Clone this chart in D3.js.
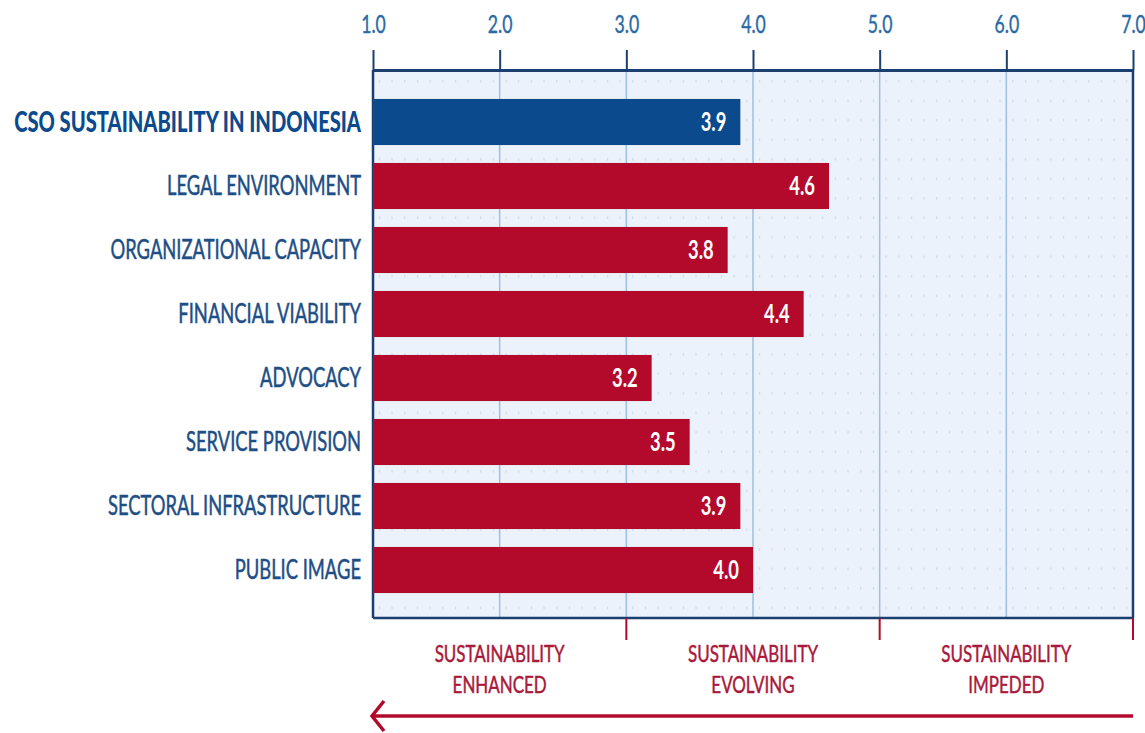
<!DOCTYPE html>
<html>
<head>
<meta charset="utf-8">
<script src="https://cdn.jsdelivr.net/npm/d3@7"></script>
<style>
  body { margin: 0; background: #fff; }
  svg text { font-family: Lato, "Open Sans", sans-serif; }
</style>
</head>
<body>
<div id="graph"></div>
<script>
// chart data
var categories = ["CSO SUSTAINABILITY IN INDONESIA", "LEGAL ENVIRONMENT", "ORGANIZATIONAL CAPACITY",
                  "FINANCIAL VIABILITY", "ADVOCACY", "SERVICE PROVISION",
                  "SECTORAL INFRASTRUCTURE", "PUBLIC IMAGE"];
var scores = [3.9, 4.6, 3.8, 4.4, 3.2, 3.5, 3.9, 4.0];
var tick_values = [1, 2, 3, 4, 5, 6, 7];
var zone_labels = [["SUSTAINABILITY", "ENHANCED"], ["SUSTAINABILITY", "EVOLVING"], ["SUSTAINABILITY", "IMPEDED"]];
var zone_bounds = [1, 3, 5, 7];

function draw_function() {
    var width = 1145, height = 733;
    var vis = d3.select("#graph").append("svg")
        .attr("width", width).attr("height", height);

    var navy = "#1b3f6e";
    var blue = "#0c4a8e";
    var red = "#b30a2c";
    var label_color = "#1d4e85";

    // the reference type is a tall narrow face: squeeze Lato horizontally.
    // calibrate so "LEGAL ENVIRONMENT" comes out about 194px wide
    var probe = vis.append("text").attr("font-size", 26).text("LEGAL ENVIRONMENT");
    var sx = 194 / probe.node().getComputedTextLength();
    probe.remove();

    var x = d3.scaleLinear().domain([1, 7]).range([373, 1133]);
    var y = d3.scaleBand().domain(categories).range([90, 602]).paddingInner(0.28).paddingOuter(0.14);

    var top = 70, bottom = 618;

    // dotted background pattern
    var defs = vis.append("defs");
    var pat = defs.append("pattern").attr("id", "dots")
        .attr("patternUnits", "userSpaceOnUse")
        .attr("x", x(1)).attr("y", top + 2)
        .attr("width", (x(2) - x(1)) / 10).attr("height", 19.5);
    pat.append("rect").attr("width", 20).attr("height", 20).attr("fill", "#ebf2fb");
    pat.append("rect").attr("x", 6).attr("y", 8).attr("width", 1).attr("height", 2.5).attr("fill", "#c4d3e6");

    vis.append("rect")
        .attr("x", x(1)).attr("y", top)
        .attr("width", x(7) - x(1)).attr("height", bottom - top)
        .attr("fill", "url(#dots)");

    // vertical grid lines
    vis.selectAll("line.grid")
        .data(tick_values.slice(1, -1))
        .enter().append("line")
        .attr("x1", function(d) { return x(d); }).attr("x2", function(d) { return x(d); })
        .attr("y1", top).attr("y2", bottom)
        .attr("stroke", "#9fbfdf").attr("stroke-width", 1.5);

    // top axis
    var axis = vis.append("g").attr("transform", "translate(0," + top + ")")
        .call(d3.axisTop(x).tickValues(tick_values).tickFormat(d3.format(".1f")).tickSize(20).tickSizeOuter(0));
    axis.select(".domain").attr("stroke", navy).attr("stroke-width", 3);
    axis.selectAll(".tick line").attr("stroke", navy).attr("stroke-width", 2);
    axis.selectAll(".tick text")
        .attr("fill", "#2a6aa6").attr("font-size", 25)
        .attr("dy", null).attr("y", -37)
        .attr("stroke", "#2a6aa6").attr("stroke-width", 0.4)
        .attr("transform", "scale(" + sx + ",1)")
        .style("font-family", "Lato, sans-serif");

    // frame sides and bottom
    vis.append("line").attr("x1", x(1)).attr("x2", x(1)).attr("y1", top).attr("y2", bottom)
        .attr("stroke", navy).attr("stroke-width", 2.5);
    vis.append("line").attr("x1", x(7)).attr("x2", x(7)).attr("y1", top).attr("y2", bottom)
        .attr("stroke", navy).attr("stroke-width", 2.5);
    vis.append("line").attr("x1", x(1)).attr("x2", x(7)).attr("y1", bottom).attr("y2", bottom)
        .attr("stroke", navy).attr("stroke-width", 2.5);

    // bars
    vis.selectAll("rect.bar")
        .data(scores)
        .enter().append("rect")
        .attr("class", "bar")
        .attr("x", x(1))
        .attr("y", function(d, i) { return y(categories[i]); })
        .attr("width", function(d) { return x(d) - x(1); })
        .attr("height", y.bandwidth())
        .attr("fill", function(d, i) { return i == 0 ? blue : red; });

    // value labels
    vis.selectAll("text.val")
        .data(scores)
        .enter().append("text")
        .attr("transform", function(d, i) {
            return "translate(" + (x(d) - 14) + "," + (y(categories[i]) + y.bandwidth() / 2) + ") scale(" + sx + ",1)";
        })
        .attr("dy", "0.36em")
        .attr("text-anchor", "end")
        .attr("fill", "#fff").attr("font-size", 26).attr("font-weight", "bold")
        .text(function(d) { return d.toFixed(1); });

    // category labels
    vis.selectAll("text.cat")
        .data(categories)
        .enter().append("text")
        .attr("transform", function(d) {
            return "translate(361," + (y(d) + y.bandwidth() / 2) + ") scale(" + sx + ",1)";
        })
        .attr("dy", "0.36em")
        .attr("text-anchor", "end")
        .attr("fill", function(d, i) { return i == 0 ? "#0c4a8e" : label_color; })
        .attr("stroke", function(d, i) { return i == 0 ? "none" : label_color; })
        .attr("stroke-width", 0.5)
        .attr("font-size", function(d, i) { return i == 0 ? 28.5 : 26; })
        .attr("font-weight", function(d, i) { return i == 0 ? "900" : "normal"; })
        .text(function(d) { return d; });

    // zone boundary ticks under the frame
    vis.selectAll("line.zone")
        .data(zone_bounds.slice(1))
        .enter().append("line")
        .attr("x1", function(d) { return x(d); }).attr("x2", function(d) { return x(d); })
        .attr("y1", bottom).attr("y2", bottom + 22)
        .attr("stroke", red).attr("stroke-width", 2);

    // zone labels
    var zl = vis.selectAll("text.zone")
        .data(zone_labels)
        .enter().append("text")
        .attr("transform", function(d, i) {
            return "translate(" + (x(zone_bounds[i]) + x(zone_bounds[i + 1])) / 2 + ",662) scale(" + sx + ",1)";
        })
        .attr("text-anchor", "middle")
        .attr("fill", "#a8193a").attr("stroke", "#a8193a").attr("stroke-width", 0.5)
        .attr("font-size", 24);
    zl.append("tspan").attr("x", 0).text(function(d) { return d[0]; });
    zl.append("tspan").attr("x", 0).attr("dy", 31).text(function(d) { return d[1]; });

    // arrow pointing toward enhanced
    var ay = 716;
    vis.append("line").attr("x1", x(1) + 1).attr("x2", x(7)).attr("y1", ay).attr("y2", ay)
        .attr("stroke", red).attr("stroke-width", 3.5);
    vis.append("path")
        .attr("d", "M" + (x(1) + 11) + "," + (ay - 15) + "L" + (x(1) - 1) + "," + ay + "L" + (x(1) + 11) + "," + (ay + 15))
        .attr("fill", "none").attr("stroke", red).attr("stroke-width", 3.5);
}

window.onload = draw_function
</script>
</body>
</html>
